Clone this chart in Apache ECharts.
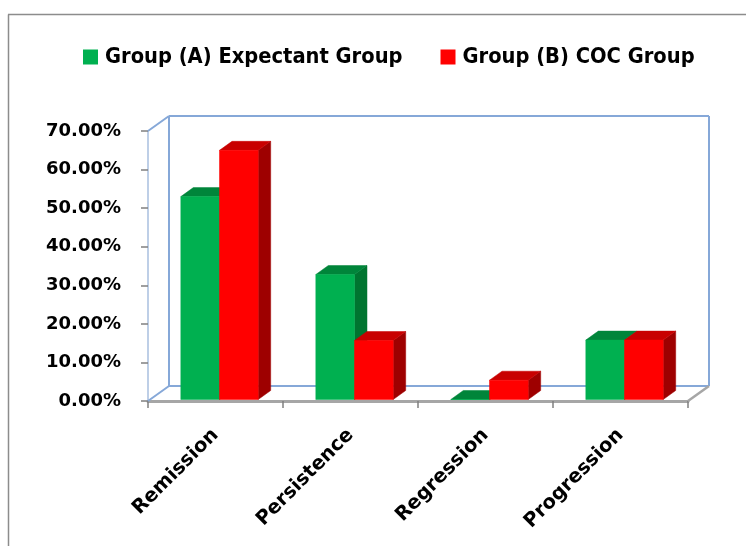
<!DOCTYPE html>
<html>
<head>
<meta charset="utf-8">
<script src="https://cdn.jsdelivr.net/npm/echarts@6/dist/echarts.min.js"></script>
<style>
  html, body { margin: 0; padding: 0; background: #fff; }
  #chart { width: 746px; height: 546px; }
</style>
</head>
<body>
<div id="chart"></div>
<script>
const categories = ['Remission', 'Persistence', 'Regression', 'Progression']
const groupA = [52.6, 32.4, 0, 15.4]
const groupB = [64.6, 15.3, 5.0, 15.4]
const yTicks = [0, 10, 20, 30, 40, 50, 60, 70]

const FONT = 'DejaVu Sans'
const FONT_NARROW = '"DejaVu Sans Condensed", "DejaVu Sans"'
// depth of the 3D box and of the bars (px)
const WALL = [21, -15]
const BAR_OFF = [4, -1.5]
const BAR_DEPTH = [12.5, -9]
const BAR_FRAC = 0.2866

const faces = {
  A: { front: '#00b050', top: '#00853a', side: '#007530' },
  B: { front: '#ff0000', top: '#c80000', side: '#9e0000' }
}

function poly(points, fill) {
  return { type: 'polygon', shape: { points }, style: { fill, stroke: fill, lineWidth: 0.5 } }
}

function barRenderer(key, slot) {
  return function (params, api) {
    const c = faces[key]
    const i = api.value(0)
    const v = api.value(1)
    const base = api.coord([i, 0])
    const top = api.coord([i, v])
    const w = api.size([1, 0])[0] * BAR_FRAC
    const x0 = base[0] + BAR_OFF[0] + (slot === 0 ? -w : 0)
    const x1 = x0 + w
    const yb = base[1] + BAR_OFF[1]
    const yt = top[1] + BAR_OFF[1]
    const dx = BAR_DEPTH[0], dy = BAR_DEPTH[1]
    return {
      type: 'group',
      children: [
        poly([[x1, yt], [x1 + dx, yt + dy], [x1 + dx, yb + dy], [x1, yb]], c.side),
        poly([[x0, yt], [x1, yt], [x1 + dx, yt + dy], [x0 + dx, yt + dy]], c.top),
        poly([[x0, yb], [x1, yb], [x1, yt], [x0, yt]], c.front)
      ]
    }
  }
}

function frameRenderer(params) {
  const cs = params.coordSys
  const x0 = cs.x, y0 = cs.y, x1 = cs.x + cs.width, y1 = cs.y + cs.height
  const dx = WALL[0], dy = WALL[1]
  const blue = { stroke: '#86a8d8', lineWidth: 2 }
  const grey = { stroke: '#a6a6a6', lineWidth: 2.5 }
  const line = (a, b, style) => ({ type: 'line', shape: { x1: a[0], y1: a[1], x2: b[0], y2: b[1] }, style })
  return {
    type: 'group',
    children: [
      line([x0 + dx, y0 + dy], [x1 + dx, y0 + dy], blue),
      line([x1 + dx, y0 + dy], [x1 + dx, y1 + dy], blue),
      line([x0 + dx, y1 + dy], [x1 + dx, y1 + dy], blue),
      line([x0 + dx, y0 + dy], [x0 + dx, y1 + dy], blue),
      line([x0, y0], [x0 + dx, y0 + dy], blue),
      line([x0, y1], [x0 + dx, y1 + dy], blue),
      line([x1, y1], [x1 + dx, y1 + dy], grey)
    ]
  }
}

const chart = echarts.init(document.getElementById('chart'))
chart.setOption({
  backgroundColor: '#fff',
  animation: false,
  graphic: [
    { type: 'line', shape: { x1: 8.5, y1: 14.5, x2: 8.5, y2: 546 }, style: { stroke: '#8c8c8c', lineWidth: 1.5 } },
    { type: 'line', shape: { x1: 8, y1: 14.5, x2: 746, y2: 14.5 }, style: { stroke: '#8c8c8c', lineWidth: 1.5 } }
  ],
  legend: {
    data: ['Group (A) Expectant Group', 'Group (B) COC Group'],
    left: 78,
    top: 41,
    icon: 'rect',
    itemWidth: 15,
    itemHeight: 15,
    itemGap: 38,
    textStyle: { fontFamily: FONT_NARROW, fontWeight: 'bold', fontSize: 21.7, color: '#000', padding: [0, 0, 0, 2] }
  },
  grid: { left: 148, right: 58, top: 131, bottom: 145 },
  xAxis: {
    type: 'category',
    data: categories,
    axisLine: { lineStyle: { color: '#a6a6a6', width: 3 } },
    axisTick: { show: true, length: 7, lineStyle: { color: '#808080', width: 1.5 } },
    axisLabel: {
      rotate: 45,
      margin: 31,
      fontFamily: FONT,
      fontWeight: 'bold',
      fontSize: 19.5,
      color: '#000'
    },
    splitLine: { show: false }
  },
  yAxis: {
    type: 'value',
    min: yTicks[0],
    max: yTicks[yTicks.length - 1],
    interval: 10,
    axisLine: { show: true, lineStyle: { color: '#a9bfdf', width: 1.5 } },
    axisTick: { show: true, length: 7, lineStyle: { color: '#808080', width: 1.5 } },
    axisLabel: {
      margin: 27,
      fontFamily: FONT,
      fontWeight: 'bold',
      fontSize: 18,
      color: '#000',
      formatter: v => v.toFixed(2) + '%'
    },
    splitLine: { show: false }
  },
  series: [
    {
      name: 'frame',
      type: 'custom',
      renderItem: frameRenderer,
      data: [[0, 0]],
      silent: true,
      z: 1
    },
    {
      name: 'Group (A) Expectant Group',
      type: 'custom',
      itemStyle: { color: faces.A.front },
      renderItem: barRenderer('A', 0),
      encode: { x: 0, y: 1 },
      data: groupA.map((v, i) => [i, v]),
      z: 3
    },
    {
      name: 'Group (B) COC Group',
      type: 'custom',
      itemStyle: { color: faces.B.front },
      renderItem: barRenderer('B', 1),
      encode: { x: 0, y: 1 },
      data: groupB.map((v, i) => [i, v]),
      z: 4
    }
  ]
})
</script>
</body>
</html>
